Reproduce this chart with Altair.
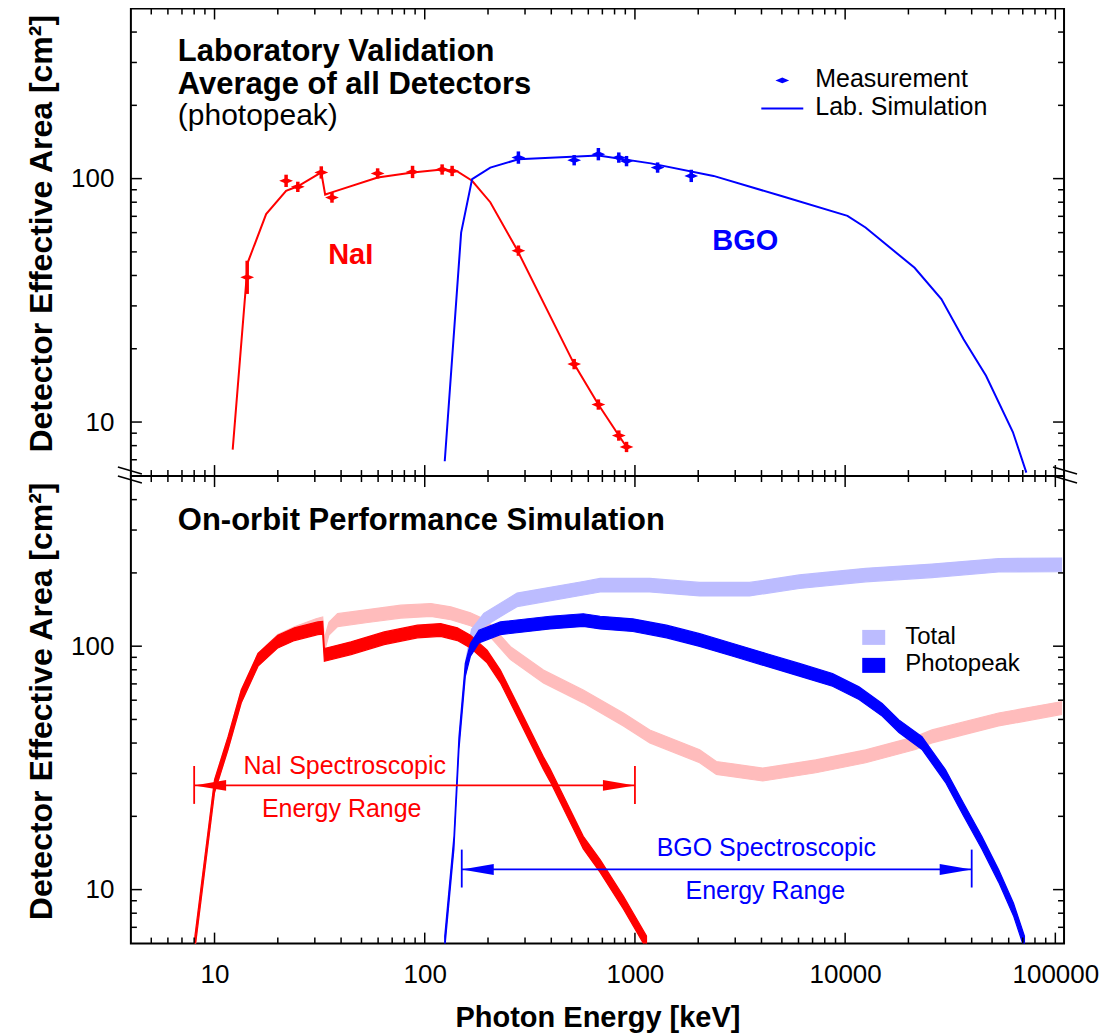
import altair as alt
import pandas as pd

W, H = 934, 468
FONT = "Liberation Sans"
RED, BLUE, PINK, LBLUE = "#ff0000", "#0000ff", "#ffbcbc", "#bcbcff"

# ---------------- top panel : laboratory validation ----------------
nai_sim_E = [12.2, 14.4, 17.6, 21.9, 24.9, 32.2, 33.6, 35.8, 59.7, 87.5, 121, 143, 168, 205, 275, 514, 670, 838, 912]
nai_sim_A = [7.7, 45.3, 71.5, 89, 93, 106, 86, 87.6, 101, 106, 109, 107, 98, 80, 51, 17.3, 11.8, 8.8, 7.9]
bgo_sim_E = [124.5, 149, 168, 205, 279, 670, 1191, 2365, 4932, 10260, 12500, 21400, 28700, 36600, 46800, 62800, 72800]
bgo_sim_A = [6.9, 60, 99.5, 111, 120, 124.5, 115.5, 102.6, 85, 70.3, 63, 43, 32, 21.9, 15.5, 9.1, 6.2]

nai_meas_E = [14.3, 21.9, 24.9, 32.2, 36.2, 59.7, 87.5, 121, 135, 279, 514, 670, 838, 912]
nai_meas_A = [39.3, 97.9, 92.5, 106, 83.6, 105, 106.5, 109, 107.5, 50.6, 17.3, 11.8, 8.8, 7.9]
nai_meas_err = [1.17, 1.06, 1.05, 1.06, 1.05, 1.05, 1.06, 1.05, 1.05, 1.05, 1.05, 1.05, 1.05, 1.05]
bgo_meas_E = [279, 514, 670, 838, 912, 1282, 1853]
bgo_meas_A = [122, 119, 126, 122, 118, 111, 102.6]
bgo_meas_err = [1.06, 1.05, 1.06, 1.05, 1.05, 1.05, 1.06]

# ---------------- bottom panel : on-orbit simulation ----------------
nai_pk_E = [8.07, 10.0, 11.6, 13.4, 16.1, 20.0, 24.0, 31.0, 32.7, 33.3, 44.6, 64.1, 92.3, 119, 143, 165,
            198, 229, 275, 367, 395, 568, 683, 881, 1135]
nai_pk_A = [6.07, 26.6, 40, 62.2, 87.9, 104.5, 112, 118.5, 119, 92.1, 98.1, 107.8, 114.9, 116.6, 112, 104.5,
            90.7, 75.1, 54.8, 33.1, 29.5, 15.6, 12.5, 8.85, 6.07]
nai_tot_E = [8.07, 10.0, 11.6, 13.4, 16.1, 20.0, 24.0, 30.4, 32.7, 33.3, 35.0, 38.5, 53.5, 77, 107, 133, 165,
             198, 256, 367, 568, 881, 1177, 2032, 2440, 4055, 7255, 12530, 21600, 25900, 53700, 107000]
nai_tot_A = [6.07, 26.6, 40, 62.2, 88, 105, 113, 122, 124, 101, 118, 128, 133, 138.7, 140.9, 136.5, 129,
             120, 93.6, 75.1, 62.2, 50, 42.6, 35.3, 31.6, 29.7, 32.1, 35.3, 40, 42.6, 50, 55.7]
bgo_pk_E = [124.5, 137.7, 145.5, 156, 165, 181, 229, 395, 568, 683, 977, 1413, 2032, 2925, 4210, 6057, 8710,
            11640, 15000, 18020, 23200, 30000, 36600, 44700, 53700, 63200, 71300]
bgo_pk_A = [6.07, 15.6, 40, 80, 96.6, 109.6, 118.5, 125, 128, 125, 122, 114.9, 106, 96.6, 87.9, 80, 72.7,
            64.2, 54.8, 46.9, 40, 29.3, 21.3, 15.6, 11.4, 8.3, 6.07]
bgo_tot_E = [156, 167, 191, 275, 568, 683, 1177, 2032, 3508, 6057, 12530, 25900, 53700, 107000]
bgo_tot_A = [80, 110, 128, 155, 173, 178, 178, 171.5, 171.5, 184, 196, 204, 215, 216]

nai_range_E = [8, 1000]
nai_range_A = 26.8
nai_bar = [22.5, 32.2]
bgo_range_E = [150, 40000]
bgo_range_A = 12.1
bgo_bar = [10.2, 14.6]

X_MAJOR = [10, 100, 1000, 10000, 100000]
X_MINOR = [5, 6, 7, 8, 9] + [m * d for d in (10, 100, 1000, 10000) for m in range(2, 10)]
Y_MAJOR = [10, 100]
Y_MINOR = [7, 8, 9, 20, 30, 40, 50, 60, 70, 80, 90, 200, 300, 400]

xs = alt.Scale(type="log", domain=[4, 110000], nice=False)
ys = alt.Scale(type="log", domain=[6, 500], nice=False)
ONE = pd.DataFrame({"a": [0]})
DIAMOND = "M-1,0 L0,-0.42 L1,0 L0,0.42 Z"
ARROW_L = "M0,0 L2,-0.34 L2,0.34 Z"
ARROW_R = "M0,0 L-2,-0.34 L-2,0.34 Z"

YAXIS = alt.Axis(values=Y_MAJOR, format="d", ticks=False, tickSize=0, domain=False, grid=False,
                 labelFont=FONT, labelFontSize=26, labelPadding=17, labelColor="black",
                 title="Detector Effective Area [cm²]", titleFont=FONT, titleFontSize=32,
                 titleFontWeight="bold", titlePadding=12, titleColor="black", titleY=225)
XAXIS = alt.Axis(values=X_MAJOR, format="d", ticks=False, tickSize=0, domain=False, grid=False,
                 labelFont=FONT, labelFontSize=26, labelPadding=18, labelColor="black", labelFlush=False,
                 title="Photon Energy [keV]", titleFont=FONT, titleFontSize=29, titleFontWeight="bold",
                 titlePadding=16, titleColor="black")


def build_panel(xax, specs):
    """xax: axis for x (None disables it in every layer of the panel)."""

    def X(f):
        return alt.X(f, type="quantitative", scale=xs, axis=xax)

    def Y(f):
        return alt.Y(f, type="quantitative", scale=ys, axis=YAXIS)

    def line(E, A, color):
        d = pd.DataFrame({"E": E, "A": A})
        return alt.Chart(d).mark_line(color=color, strokeWidth=2, clip=True).encode(x=X("E"), y=Y("A"))

    def band(E, A, color, factor):
        d = pd.DataFrame({"E": E, "A": A})
        return alt.Chart(d).transform_calculate(
            lo=f"datum.A / {factor}", hi=f"datum.A * {factor}"
        ).mark_area(fill=color, stroke=color, strokeWidth=1.2, opacity=1, fillOpacity=1, clip=True).encode(
            x=X("E"), y=Y("lo"), y2="hi:Q")

    def meas(E, A, err, color):
        d = pd.DataFrame({"E": E, "A": A, "err": err})
        base = alt.Chart(d).transform_calculate(lo="datum.A / datum.err", hi="datum.A * datum.err")
        bars = base.mark_rule(color=color, strokeWidth=3.5).encode(x=X("E"), y=Y("lo"), y2="hi:Q")
        pts = base.mark_point(shape=DIAMOND, filled=True, size=190, color=color, opacity=1).encode(
            x=X("E"), y=Y("A"))
        return [bars, pts]

    def arrow(rng, a, bar, color):
        arr = pd.DataFrame({"E1": [rng[0]], "E2": [rng[1]], "A": [a]})
        ends = pd.DataFrame({"E": rng, "lo": [bar[0]] * 2, "hi": [bar[1]] * 2})
        return [
            alt.Chart(arr).mark_rule(color=color, strokeWidth=1.8).encode(x=X("E1"), x2="E2:Q", y=Y("A")),
            alt.Chart(ends).mark_rule(color=color, strokeWidth=1.8).encode(x=X("E"), y=Y("lo"), y2="hi:Q"),
            alt.Chart(arr).mark_point(shape=ARROW_L, filled=True, size=1024, color=color, opacity=1).encode(
                x=X("E1"), y=Y("A")),
            alt.Chart(arr).mark_point(shape=ARROW_R, filled=True, size=1024, color=color, opacity=1).encode(
                x=X("E2"), y=Y("A")),
        ]

    def ticks():
        out = []
        for vals, ln in ((X_MAJOR, 11), (X_MINOR, 6)):
            d = pd.DataFrame({"v": vals})
            out.append(alt.Chart(d).mark_rule(color="black", strokeWidth=1.5).encode(
                x=X("v"), y=alt.value(0), y2=alt.value(ln)))
            out.append(alt.Chart(d).mark_rule(color="black", strokeWidth=1.5).encode(
                x=X("v"), y=alt.value(H), y2=alt.value(H - ln)))
        for vals, ln in ((Y_MAJOR, 11), (Y_MINOR, 6)):
            d = pd.DataFrame({"v": vals})
            out.append(alt.Chart(d).mark_rule(color="black", strokeWidth=1.5).encode(
                y=Y("v"), x=alt.value(0), x2=alt.value(ln)))
            out.append(alt.Chart(d).mark_rule(color="black", strokeWidth=1.5).encode(
                y=Y("v"), x=alt.value(W), x2=alt.value(W - ln)))
        return out

    tools = dict(line=line, band=band, meas=meas, arrow=arrow)
    layers = []
    for s in specs:
        kind = s[0]
        if kind in tools:
            r = tools[kind](*s[1:])
            layers.extend(r if isinstance(r, list) else [r])
        else:
            layers.append(s[1])
    layers.extend(ticks())
    return alt.layer(*layers).properties(width=W, height=H)


def label(text, x, y, size, color="black", weight="normal", align="left", baseline="alphabetic"):
    return ("raw", alt.Chart(ONE).mark_text(text=text, font=FONT, fontSize=size, fontWeight=weight,
                                            color=color, align=align, baseline=baseline).encode(
        x=alt.value(x), y=alt.value(y)))


def rule_px(x1, y1, x2, y2, color="black", w=1.5):
    return ("raw", alt.Chart(ONE).mark_rule(color=color, strokeWidth=w).encode(
        x=alt.value(x1), y=alt.value(y1), x2=alt.value(x2), y2=alt.value(y2)))


def rect_px(x1, y1, x2, y2, color):
    return ("raw", alt.Chart(ONE).mark_rect(color=color).encode(
        x=alt.value(x1), x2=alt.value(x2), y=alt.value(y1), y2=alt.value(y2)))


def point_px(x, y, color):
    return ("raw", alt.Chart(ONE).mark_point(shape=DIAMOND, filled=True, size=190, color=color,
                                             opacity=1).encode(x=alt.value(x), y=alt.value(y)))


top = build_panel(None, [
    ("line", nai_sim_E, nai_sim_A, RED),
    ("line", bgo_sim_E, bgo_sim_A, BLUE),
    ("meas", nai_meas_E, nai_meas_A, nai_meas_err, RED),
    ("meas", bgo_meas_E, bgo_meas_A, bgo_meas_err, BLUE),
    label("Laboratory Validation", 47, 53, 31, weight="bold"),
    label("Average of all Detectors", 47, 86, 31, weight="bold"),
    label("(photopeak)", 47, 117, 30),
    label("NaI", 220, 256, 29, color=RED, weight="bold", align="center"),
    label("BGO", 615, 242, 29, color=BLUE, weight="bold", align="center"),
    point_px(652, 72, BLUE),
    rule_px(631, 100, 673, 100, BLUE, 2),
    label("Measurement", 685, 79, 25),
    label("Lab. Simulation", 685, 107, 25),
])

bottom = build_panel(XAXIS, [
    ("band", nai_tot_E, nai_tot_A, PINK, 1.063),
    ("band", bgo_tot_E, bgo_tot_A, LBLUE, 1.066),
    ("band", nai_pk_E, nai_pk_A, RED, 1.062),
    ("band", bgo_pk_E, bgo_pk_A, BLUE, 1.062),
    ("arrow", nai_range_E, nai_range_A, nai_bar, RED),
    ("arrow", bgo_range_E, bgo_range_A, bgo_bar, BLUE),
    label("On-orbit Performance Simulation", 47, 54, 31, weight="bold"),
    label("NaI Spectroscopic", 214, 298, 25, color=RED, align="center"),
    label("Energy Range", 211, 341, 25, color=RED, align="center"),
    label("BGO Spectroscopic", 636, 380, 25, color=BLUE, align="center"),
    label("Energy Range", 635, 423, 25, color=BLUE, align="center"),
    rect_px(732, 154, 755, 169, LBLUE),
    rect_px(732, 182, 755, 197, BLUE),
    label("Total", 775, 168, 24),
    label("Photopeak", 775, 195, 24),
    rule_px(-13, -9, 11, -2), rule_px(-13, 0, 11, 7),
    rule_px(W - 11, -9, W + 13, -2), rule_px(W - 11, 0, W + 13, 7),
])

chart = alt.vconcat(top, bottom, spacing=0, bounds="flush").configure_view(
    stroke="black", strokeWidth=2
).properties(padding={"left": 16, "top": -2, "right": 4, "bottom": 4}, background="white")

chart.save("out.html", embed_options={"renderer": "svg", "actions": False})
